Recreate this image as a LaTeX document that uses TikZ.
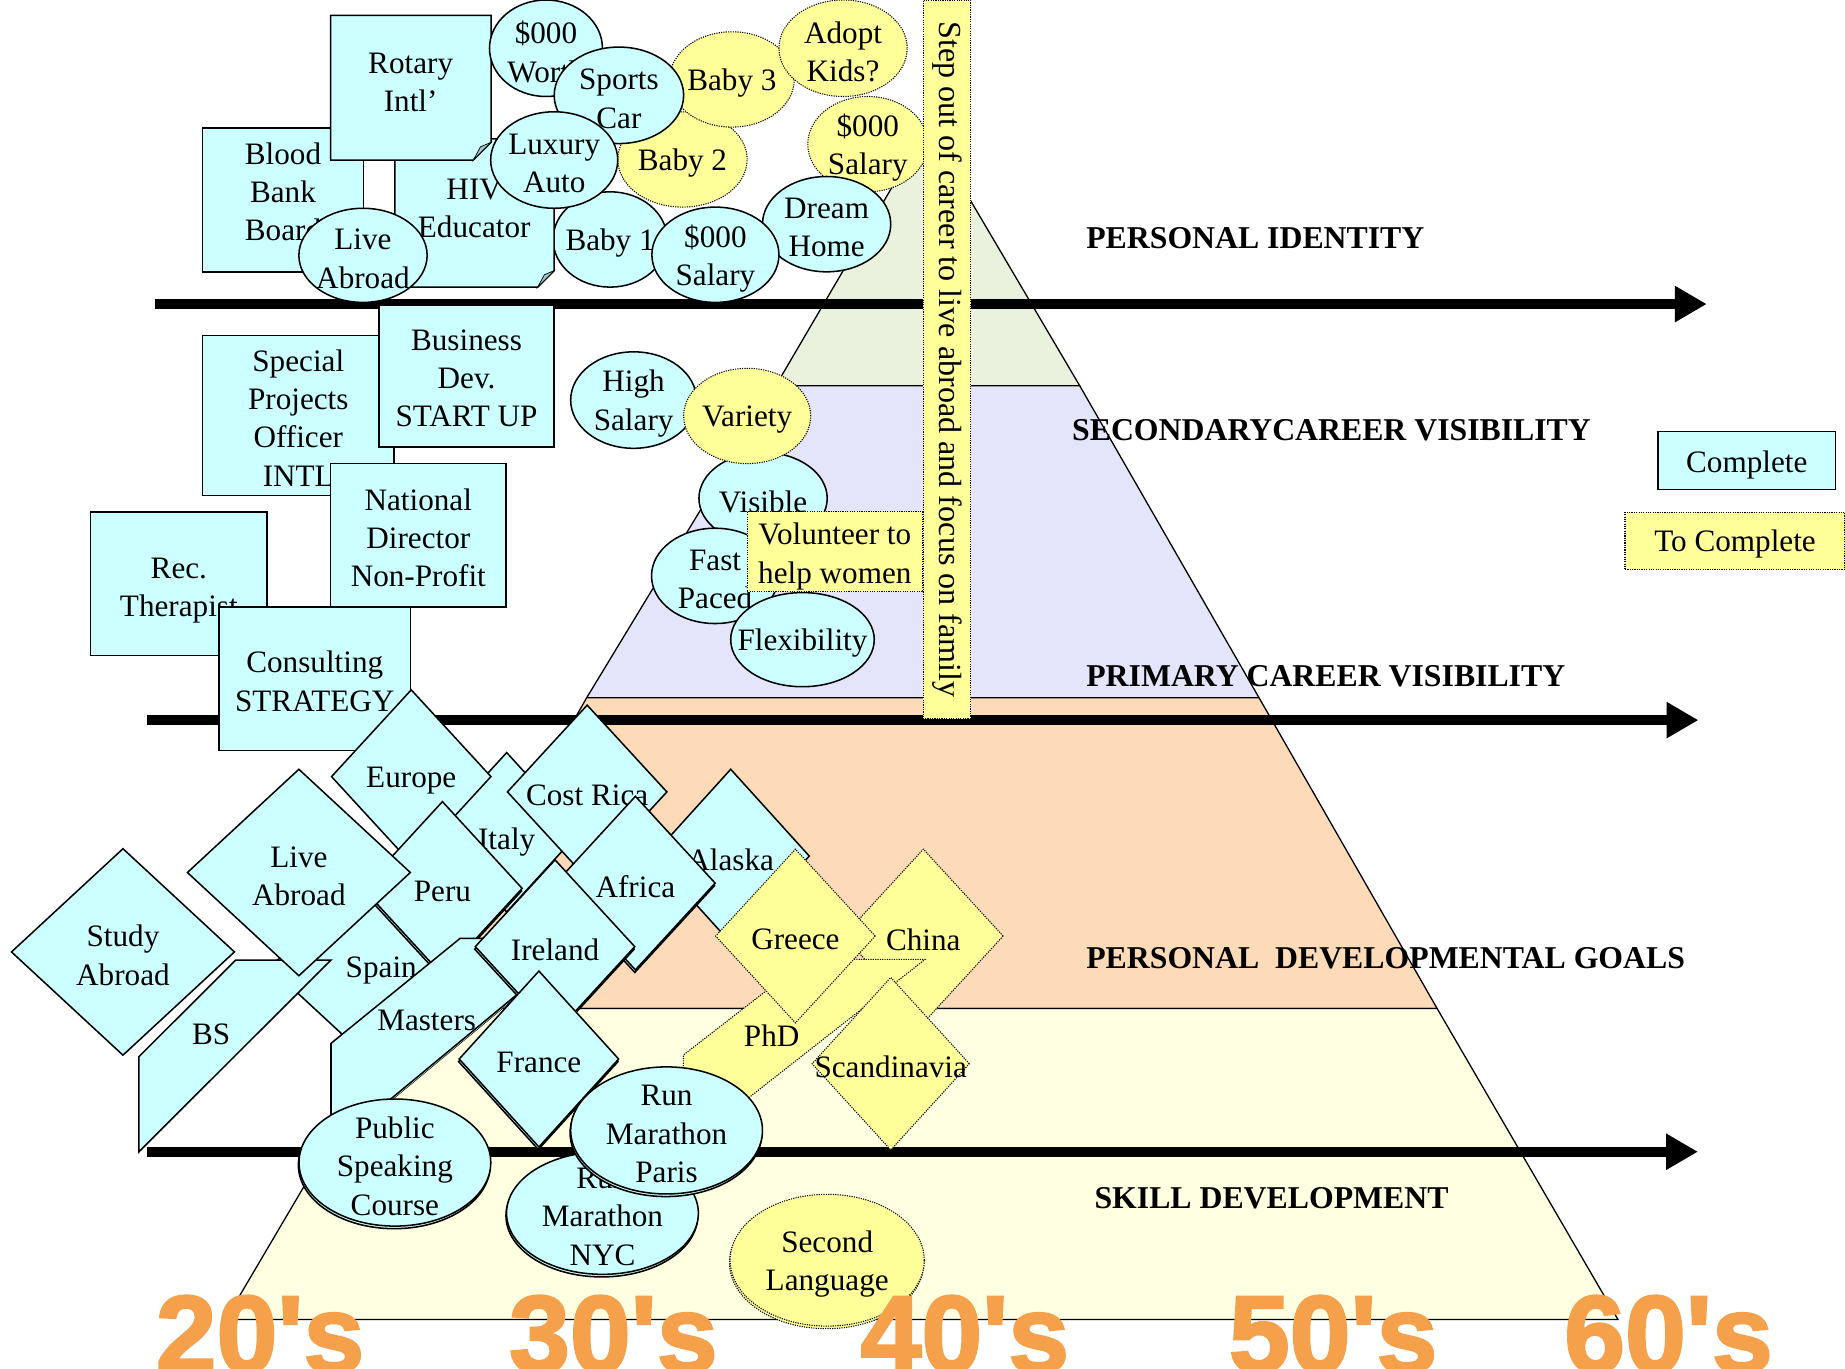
\documentclass[tikz,border=0pt]{standalone}
\usepackage{fontspec}
\setmainfont{Liberation Serif}
\newfontfamily\decfont{Liberation Sans}[BoldFeatures={FakeBold=2.2}]
\usetikzlibrary{shapes.geometric,arrows.meta,shadows}

\definecolor{donecol}{HTML}{CCFFFF}
\definecolor{todocol}{HTML}{FFFF99}
\definecolor{flapcol}{HTML}{A3C4C4}
\definecolor{tiergreen}{HTML}{EAF1DD}
\definecolor{tierlav}{HTML}{E4E4FA}
\definecolor{tierpeach}{HTML}{FEDBB8}
\definecolor{tieryellow}{HTML}{FFFFE1}
\definecolor{decorange}{HTML}{F5A04A}

\begin{document}
\begin{tikzpicture}[x=1pt, y=-1pt, font=\fontsize{26.5}{32.6}\selectfont,
  done/.style={draw, fill=donecol, line width=1.3pt},
  todo/.style={draw, fill=todocol, line width=0.9pt, dash pattern=on 1pt off 1pt},
  card/.style={rectangle, done, inner sep=0pt},
  note/.style={rectangle, todo, inner sep=0pt},
  oval/.style={ellipse, inner sep=0pt},
  gem/.style={diamond, inner sep=0pt, minimum width=136pt, minimum height=148pt},
  biggem/.style={diamond, inner sep=0pt, minimum width=190pt, minimum height=176pt},
  txt/.style={align=center, inner sep=0pt},
  inlabel/.style={txt, yshift=-3pt},
  flap/.style={draw, fill=flapcol, line width=0.6pt},
  lift/.style={copy shadow={shadow xshift=-0.5pt, shadow yshift=-2.2pt}},
  tier/.style={draw, line width=1.1pt},
  tierlab/.style={anchor=west, inner sep=0pt, font=\bfseries\fontsize{27}{32}\selectfont},
  timeline/.style={line width=8.5pt, -{Triangle[length=27pt, width=29pt]}},
  decade/.style={anchor=base, inner sep=0pt, text=decorange, font=\decfont\bfseries\fontsize{93}{93}\selectfont}]
\useasboundingbox (0,0) rectangle (1568,1163);
\fill[white] (0,0) rectangle (1568,1163);

\filldraw[tier, fill=tiergreen] (788,108) -- (917.6,327.8) -- (659.3,327.8) -- cycle;
\filldraw[tier, fill=tierlav] (659.3,327.8) -- (917.6,327.8) -- (1070,593) -- (498.6,593) -- cycle;
\filldraw[tier, fill=tierpeach] (498.6,593) -- (1070,593) -- (1221.3,857) -- (347.5,857) -- cycle;
\filldraw[tier, fill=tieryellow] (347.5,857) -- (1221.3,857) -- (1375,1121.3) -- (191.8,1121.3) -- cycle;

\coordinate (idL) at (132,258.4);
\coordinate (idR) at (1450.5,258.4);
\coordinate (prL) at (124.7,612);
\coordinate (prR) at (1443.4,612);
\coordinate (skL) at (124.7,978.8);
\coordinate (skR) at (1443,978.8);
\draw[timeline] (idL) -- (idR);
\draw[timeline] (prL) -- (prR);
\draw[timeline] (skL) -- (skR);

\node[tierlab] (identity) at (923,202.7) {PERSONAL IDENTITY};
\node[tierlab] (secondary) at (911,365.8) {SECONDARYCAREER VISIBILITY};
\node[tierlab] (primary) at (923,574.7) {PRIMARY CAREER VISIBILITY};
\node[tierlab] (goals) at (923,814.7) {PERSONAL\ \ DEVELOPMENTAL GOALS};
\node[tierlab] (skills) at (930,1018.6) {SKILL DEVELOPMENT};

\node[oval, done, minimum width=97pt, minimum height=81pt, label={[inlabel]center:Baby 1}] (baby1) at (518.5,203.5) {};
\node[card, minimum width=137pt, minimum height=122pt, label={[txt, yshift=7pt]center:Blood\\Bank\\Board}] (blood) at (240.5,170) {};
\filldraw[done] (335.5,118) -- (471,118) -- (471,230) -- (457,244) -- (335.5,244) -- cycle;
\filldraw[flap] (457,244) -- (471,230) -- (462.6,233.5) -- cycle;
\node[txt] (hiv) at (403,177) {HIV\\Educator};
\filldraw[done] (281,13) -- (417.3,13) -- (417.3,121) -- (402.3,136) -- (281,136) -- cycle;
\filldraw[flap] (402.3,136) -- (417.3,121) -- (408.3,124.8) -- cycle;
\node[txt] (rotary) at (349,70) {Rotary\\Intl’};
\node[card, minimum width=163pt, minimum height=136pt, label={[txt, yshift=-2pt]center:Special\\Projects\\Officer\\INTL}] (special) at (253.5,353) {};
\node[card, minimum width=149pt, minimum height=121pt, label={[txt, yshift=-2pt]center:Business\\Dev.\\START UP}] (business) at (396.5,319.5) {};
\node[card, minimum width=149pt, minimum height=122pt, label={[txt, yshift=-2pt]center:National\\Director\\Non-Profit}] (national) at (355.5,455) {};
\node[card, minimum width=150pt, minimum height=122pt, label={[txt, yshift=-6pt]center:Rec.\\Therapist}] (rec) at (152,496) {};
\node[card, minimum width=163pt, minimum height=122pt, label={[txt, yshift=-2pt]center:Consulting\\STRATEGY}] (consult) at (267.5,577) {};

\node[oval, todo, minimum width=110pt, minimum height=81pt, label={[inlabel]center:Baby 2}] (baby2) at (580,135.5) {};
\node[oval, todo, minimum width=106pt, minimum height=81pt, label={[inlabel]center:Baby 3}] (baby3) at (622,67.5) {};
\node[oval, done, minimum width=96pt, minimum height=82pt, label={[inlabel]center:\$000\\Worth}] (worth) at (464,41) {};
\node[oval, done, minimum width=110pt, minimum height=82pt, label={[inlabel]center:Sports\\Car}] (sports) at (526,81) {};
\node[oval, done, minimum width=108pt, minimum height=82pt, label={[inlabel]center:Luxury\\Auto}] (luxury) at (471,136) {};
\node[oval, todo, minimum width=109pt, minimum height=82pt, label={[inlabel]center:Adopt\\Kids?}] (adopt) at (716.5,41) {};
\node[oval, todo, minimum width=102pt, minimum height=81pt, label={[inlabel]center:\$000\\Salary}] (salnext) at (737.5,122.5) {};
\node[oval, done, minimum width=109pt, minimum height=81pt, label={[inlabel]center:Dream\\Home}] (dream) at (702.5,190.5) {};
\node[oval, done, minimum width=108pt, minimum height=81pt, label={[inlabel]center:\$000\\Salary}] (salnow) at (608,216.5) {};
\node[oval, done, minimum width=109pt, minimum height=80pt, label={[inlabel]center:Live\\Abroad}] (liveoval) at (308.5,217) {};

\node[oval, done, minimum width=109pt, minimum height=78pt, label={[inlabel]center:Visible}] (visible) at (648.5,423.5) {};
\node[oval, done, minimum width=108pt, minimum height=81pt, label={[inlabel]center:Fast\\Paced}] (fast) at (607.7,489.4) {};
\node[oval, done, minimum width=107pt, minimum height=82pt, label={[inlabel]center:High\\Salary}] (highsal) at (538.5,340) {};
\node[oval, todo, minimum width=108pt, minimum height=81pt, label={[inlabel]center:Variety}] (variety) at (635,353.5) {};
\node[note, minimum width=149pt, minimum height=68pt, label={[txt, yshift=-4pt]center:Volunteer to\\help women}] (volunteer) at (709.5,469) {};
\node[oval, done, minimum width=122pt, minimum height=80pt, label={[inlabel]center:Flexibility}] (flex) at (682,543.6) {};

\node[note, rotate=-90, minimum width=611pt, minimum height=40.4pt,
  font=\fontsize{27.3}{32}\selectfont] (family) at (804.7,305.5) {Step out of career to live abroad and focus on family};

\node[gem, done, minimum width=124pt, minimum height=136pt, label={[txt, yshift=-8pt]center:Italy}] (italy) at (430.6,707.3) {};
\node[gem, done, label={[inlabel]center:Europe}] (europe) at (349.5,660) {};
\node[gem, done, label={[inlabel]center:Cost Rica}] (costrica) at (499,673) {};
\node[gem, done, minimum width=134pt, label={[inlabel]center:Alaska}] (alaska) at (621,727.5) {};
\node[gem, done, lift, label={[inlabel]center:Africa}] (africa) at (540,750.5) {};
\node[biggem, done, label={[inlabel]center:Spain}] (spain) at (324,822) {};
\filldraw[done] (200.3,815.9) -- (281.3,815.9) -- (118.1,978.8) -- (118.1,898) -- cycle;
\node[txt] (bs) at (179.5,879) {BS};
\node[gem, done, lift, label={[inlabel]center:Peru}] (peru) at (376,755) {};
\node[biggem, done, label={[inlabel]center:Live\\Abroad}] (livegem) at (254,741.5) {};
\node[biggem, done, label={[inlabel]center:Study\\Abroad}] (study) at (104.5,809) {};
\filldraw[done, lift] (391,797.5) -- (497,797.5) -- (281.3,976) -- (281.3,886.7) -- cycle;
\node[txt] (masters) at (362.6,867) {Masters};
\node[gem, done, lift, label={[inlabel]center:Ireland}] (ireland) at (471.7,804.5) {};
\node[gem, done, lift, minimum height=150pt, label={[inlabel]center:France}] (france) at (458,900) {};

\node[gem, todo, label={[inlabel]center:China}] (china) at (784.7,795.5) {};
\filldraw[todo] (685.7,815.3) -- (786.2,815.3) -- (580.8,976.5) -- (580.8,896.6) -- cycle;
\node[txt] (phd) at (655.8,880) {PhD};
\node[gem, todo, label={[inlabel]center:Greece}] (greece) at (676,795.5) {};
\node[gem, todo, minimum width=134pt, minimum height=147pt, label={[inlabel]center:Scandinavia}] (scandi) at (757,904) {};

\node[oval, done, lift, minimum width=163pt, minimum height=108pt, label={[inlabel]center:Public\\Speaking\\Course}] (speaking) at (335.6,988) {};
\node[oval, done, lift, minimum width=163pt, minimum height=104pt, label={[inlabel]center:Run\\Marathon\\NYC}] (nyc) at (512,1031) {};
\node[oval, done, lift, minimum width=163pt, minimum height=108pt, label={[inlabel]center:Run\\Marathon\\Paris}] (paris) at (566.5,960.7) {};
\node[oval, todo, lift, minimum width=165pt, minimum height=112pt, label={[inlabel]center:Second\\Language}] (language) at (703,1071) {};

\node[card, minimum width=151pt, minimum height=49pt, label={[txt, yshift=-4pt]center:Complete}] (legdone) at (1484.5,391.3) {};
\node[note, minimum width=187pt, minimum height=48.5pt, label={[txt, yshift=-3pt]center:To Complete}] (legtodo) at (1474.5,459.7) {};

\node[decade] (d20) at (221,1166) {20's};
\node[decade] (d30) at (521.3,1166) {30's};
\node[decade] (d40) at (820,1166) {40's};
\node[decade] (d50) at (1133,1166) {50's};
\node[decade] (d60) at (1418,1166) {60's};
\end{tikzpicture}
\end{document}
